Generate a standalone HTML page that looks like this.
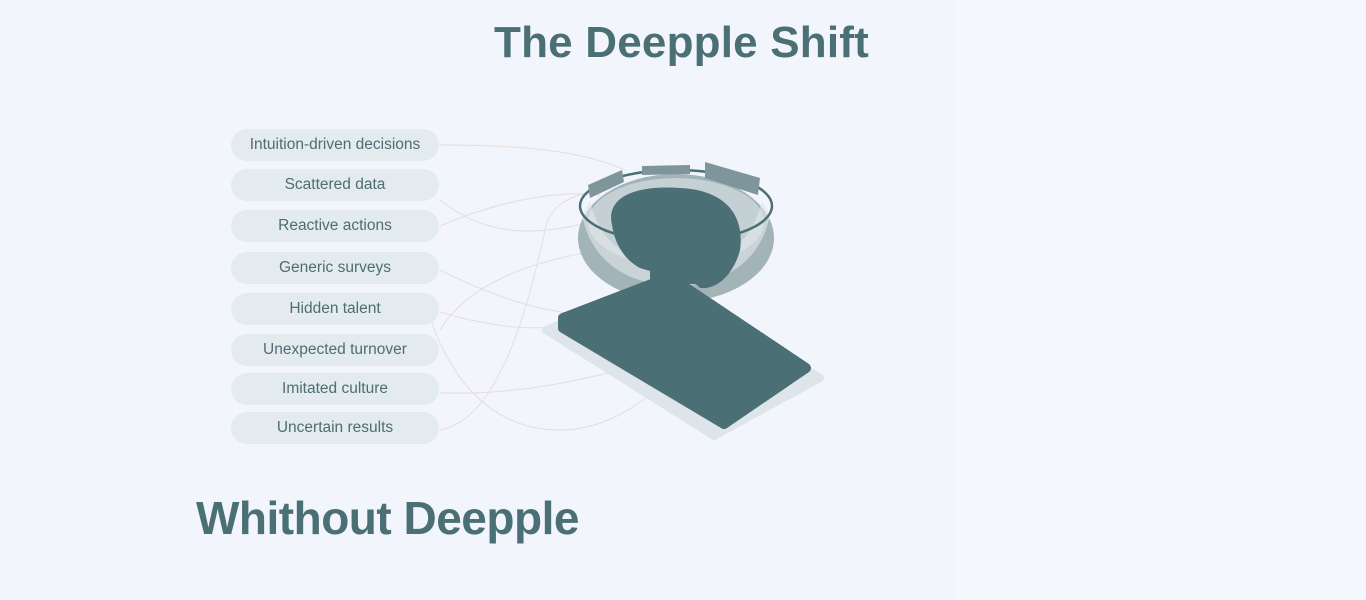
<!DOCTYPE html>
<html><head><meta charset="utf-8"><style>
body{margin:0;width:1366px;height:600px;overflow:hidden;background:#f4f8fc;font-family:"Liberation Sans",sans-serif;position:relative}
.panel{position:absolute;left:0;top:0;width:955px;height:600px;background:#f2f6fc}
.t{position:absolute;color:#4a6f74;font-weight:900;white-space:nowrap}
.pill{position:absolute;left:231px;width:208px;height:32px;border-radius:16px;background:#e3ebee;color:#4f6d73;font-size:15.5px;line-height:32px;text-align:center}
</style></head><body>
<div class="panel"></div>
<svg style="position:absolute;left:0;top:0" width="1366" height="600">
<g fill="none" stroke="#e8dcd8" stroke-width="1">
<path d="M440 145 C520 145 580 150 625 170"/>
<path d="M440 200 C490 240 540 235 600 220"/>
<path d="M440 226 C500 200 560 190 600 195"/>
<path d="M440 270 C500 300 540 310 580 315"/>
<path d="M440 312 C500 330 540 330 580 325"/>
<path d="M440 330 C470 280 540 260 600 250"/>
<path d="M440 393 C520 395 580 380 620 370"/>
<path d="M440 430 C500 420 530 300 545 230 C550 205 570 195 600 190"/>
<path d="M425 300 C440 360 480 430 560 430 C600 430 630 410 650 395"/>
</g>
<polygon points="546,330 668,282 820,378 714,436" fill="#dde5ea" stroke="#dde5ea" stroke-width="8" stroke-linejoin="round"/>
<ellipse cx="676" cy="238" rx="98" ry="64" fill="#a3b4b9"/>
<ellipse cx="676" cy="222" rx="88" ry="44" fill="#c4d0d4"/>
<path d="M590 200 C600 250 640 265 676 266 C712 265 752 250 762 200 L770 215 C760 265 720 285 676 286 C632 285 592 265 582 215Z" fill="#e4eaed" opacity=".6"/>
<ellipse cx="676" cy="206" rx="96" ry="36" fill="none" stroke="#4a6f74" stroke-width="2.5"/>
<path d="M588 185 L622 170 L624 182 L590 198Z M642 166 L690 165 L690 174 L642 175Z M705 162 L760 178 L758 195 L705 178Z" fill="#7d959b"/>
<path d="M612 225 C605 195 640 185 680 188 C725 190 745 215 740 250 C735 270 720 290 700 288 C690 275 660 275 640 268 C625 260 615 245 612 225Z" fill="#4a6f74"/>
<rect x="650" y="262" width="60" height="22" fill="#4a6f74"/>
<polygon points="563,318 670,277 806,368 724,424 563,328" fill="#4a6f74" stroke="#4a6f74" stroke-width="10" stroke-linejoin="round"/>
</svg>
<div class="t" style="left:494px;top:18px;font-size:44px;letter-spacing:0.2px">The Deepple Shift</div>
<div class="t" style="left:196px;top:491px;font-size:46px;letter-spacing:-0.5px">Whithout Deepple</div>
<div class="pill" style="top:129px">Intuition-driven decisions</div>
<div class="pill" style="top:169px">Scattered data</div>
<div class="pill" style="top:210px">Reactive actions</div>
<div class="pill" style="top:252px">Generic surveys</div>
<div class="pill" style="top:293px">Hidden talent</div>
<div class="pill" style="top:334px">Unexpected turnover</div>
<div class="pill" style="top:373px">Imitated culture</div>
<div class="pill" style="top:412px">Uncertain results</div>
</body></html>
